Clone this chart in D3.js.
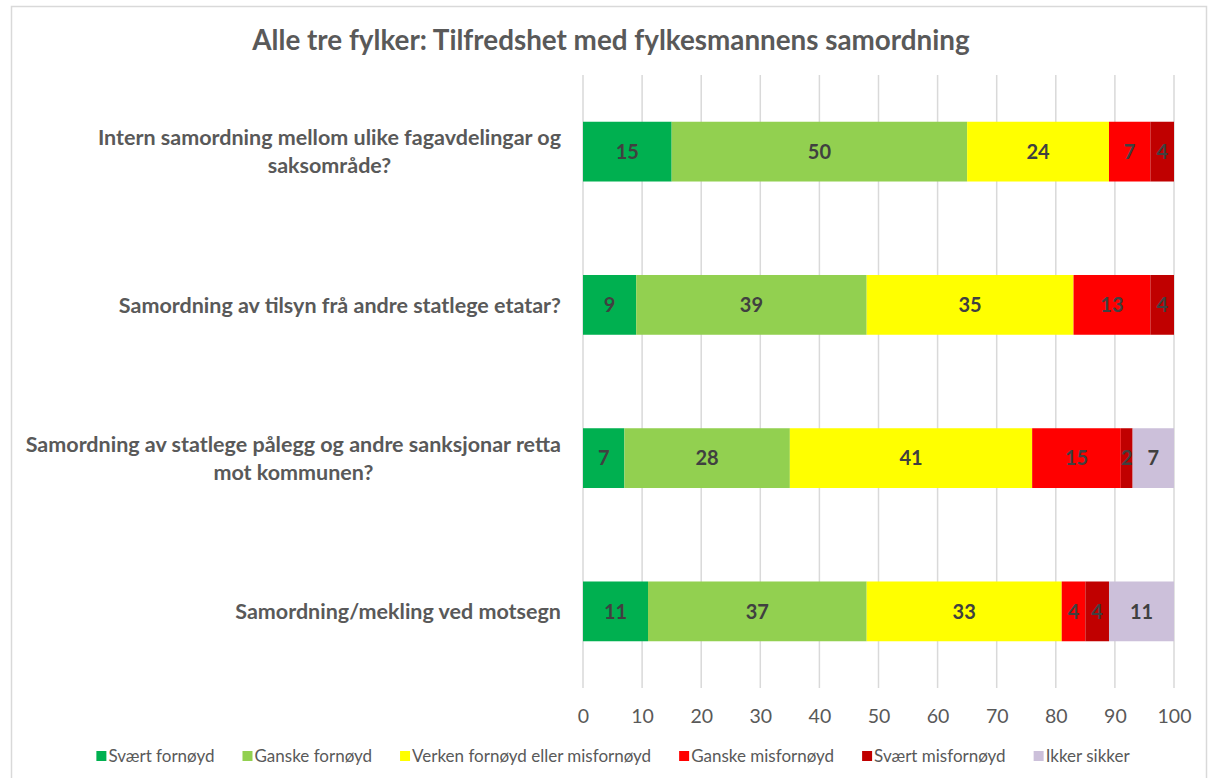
<!DOCTYPE html>
<html>
<head>
<meta charset="utf-8">
<script src="https://cdn.jsdelivr.net/npm/d3@7"></script>
<style>
  body { margin: 0; background: #fff; }
  svg { display: block; font-family: Lato, "Open Sans", sans-serif; }
</style>
</head>
<body>
<div id="chart"></div>
<script>
// Questions (one bar each), top to bottom
const questions = [
    ['Intern samordning mellom ulike fagavdelingar og', 'saksområde?'],
    ['Samordning av tilsyn frå andre statlege etatar?'],
    ['Samordning av statlege pålegg og andre sanksjonar retta', 'mot kommunen?'],
    ['Samordning/mekling ved motsegn']
];

// Answer categories and their colours
const answers = ['Svært fornøyd', 'Ganske fornøyd', 'Verken fornøyd eller misfornøyd',
    'Ganske misfornøyd', 'Svært misfornøyd', 'Ikker sikker'];
const colors = ['#00B050', '#92D050', '#FFFF00', '#FF0000', '#C00000', '#CCC0DA'];

// Percent per answer, one array per category
const sværtFornøyd = [15, 9, 7, 11];
const ganskeFornøyd = [50, 39, 28, 37];
const verken = [24, 35, 41, 33];
const ganskeMisfornøyd = [7, 13, 15, 4];
const sværtMisfornøyd = [4, 4, 2, 4];
const ikkeSikker = [0, 0, 7, 11];

const xTicks = [0, 10, 20, 30, 40, 50, 60, 70, 80, 90, 100];

const width = 1210;
const height = 778;
const margin = { top: 75, right: 36, bottom: 90, left: 583 };

const svg = d3.select('#chart').append('svg')
    .attr('width', width)
    .attr('height', height);

// Chart frame
svg.append('rect')
    .attr('x', 11.5).attr('y', 6.5)
    .attr('width', 1195).attr('height', 780)
    .attr('fill', '#fff')
    .attr('stroke', '#D9D9D9')
    .attr('stroke-width', 1.5);

// Title
svg.append('text')
    .attr('x', 611).attr('y', 50)
    .attr('text-anchor', 'middle')
    .attr('fill', '#595959')
    .style('font-size', '27.8px')
    .style('font-weight', 'bold')
    .text('Alle tre fylker: Tilfredshet med fylkesmannens samordning');

const x = d3.scaleLinear().domain([0, 100]).range([margin.left, width - margin.right]);
const y = d3.scaleBand()
    .domain(d3.range(questions.length))
    .range([margin.top, height - margin.bottom])
    .paddingInner(0.61)
    .paddingOuter(0.305);

// Vertical gridlines
svg.append('g')
    .selectAll('line')
    .data(xTicks)
    .join('line')
    .attr('x1', (d) => x(d)).attr('x2', (d) => x(d))
    .attr('y1', margin.top).attr('y2', height - margin.bottom)
    .attr('stroke', '#D9D9D9')
    .attr('stroke-width', 1.5);

// X axis tick labels
const xAxis = d3.axisBottom(x).tickValues(xTicks).tickSize(0).tickPadding(21);
const xAxisGroup = svg.append('g')
    .attr('transform', `translate(0, ${height - margin.bottom})`)
    .call(xAxis);
xAxisGroup.select('.domain').remove();
xAxisGroup.selectAll('text')
    .attr('fill', '#595959')
    .style('font-family', 'Lato, "Open Sans", sans-serif')
    .style('font-size', '19.5px');

// Build stacked data
const series = [sværtFornøyd, ganskeFornøyd, verken, ganskeMisfornøyd, sværtMisfornøyd, ikkeSikker];
const rows = questions.map((q, i) => {
    const row = { idx: i };
    answers.forEach((a, j) => { row[a] = series[j][i]; });
    return row;
});
const stacked = d3.stack().keys(answers)(rows);

const layers = svg.append('g')
    .selectAll('g')
    .data(stacked)
    .join('g')
    .attr('fill', (d, i) => colors[i]);

layers.selectAll('rect')
    .data((d) => d.filter((s) => s[1] - s[0] > 0))
    .join('rect')
    .attr('x', (d) => x(d[0]))
    .attr('y', (d) => y(d.data.idx))
    .attr('width', (d) => x(d[1]) - x(d[0]))
    .attr('height', y.bandwidth());

layers.selectAll('text')
    .data((d) => d.filter((s) => s[1] - s[0] > 0))
    .join('text')
    .attr('x', (d) => (x(d[0]) + x(d[1])) / 2)
    .attr('y', (d) => y(d.data.idx) + y.bandwidth() / 2)
    .attr('dy', '0.36em')
    .attr('text-anchor', 'middle')
    .attr('fill', '#404040')
    .style('font-size', '20px')
    .style('font-weight', 'bold')
    .text((d) => d[1] - d[0]);

// Category labels, wrapped lines centred within a right-aligned block
const labelRight = 561;
questions.forEach((lines, i) => {
    const g = svg.append('g');
    const texts = lines.map((line, k) => g.append('text')
        .attr('fill', '#595959')
        .style('font-size', '21.5px')
        .style('font-weight', 'bold')
        .attr('text-anchor', 'middle')
        .attr('dy', '0.36em')
        .attr('y', y(i) + y.bandwidth() / 2 + (k - (lines.length - 1) / 2) * 28)
        .text(line));
    const maxW = d3.max(texts, (t) => t.node().getComputedTextLength());
    texts.forEach((t) => t.attr('x', labelRight - maxW / 2));
});

// Legend
const legend = svg.append('g');
const items = answers.map((a, i) => {
    const item = legend.append('g');
    item.append('rect')
        .attr('width', 10).attr('height', 10)
        .attr('y', -5)
        .attr('fill', colors[i]);
    const t = item.append('text')
        .attr('x', 12)
        .attr('dy', '0.36em')
        .attr('fill', '#595959')
        .style('font-size', '17px')
        .text(a);
    return { item, w: 12 + t.node().getComputedTextLength() };
});
const gap = 28;
const totalW = d3.sum(items, (d) => d.w) + gap * (items.length - 1);
let lx = 613 - totalW / 2;
items.forEach((d) => {
    d.item.attr('transform', `translate(${lx}, 756)`);
    lx += d.w + gap;
});
</script>
</body>
</html>
